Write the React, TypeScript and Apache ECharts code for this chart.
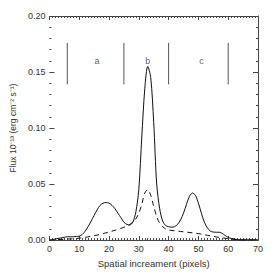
import React, { useEffect, useRef } from "react";
import * as echarts from "echarts";

const solidX = [0,1,2,3,4,5,6,7,8,9,10,11,12,13,14,15,16,17,18,19,20,21,22,23,24,25,26,27,28,29,30,31,32,33,34,35,36,37,38,39,40,41,42,43,44,45,46,47,48,49,50,51,52,53,54,55,56,57,58,59,60,61,62,63,64,66,68,70];
const solidY = [0,0.0005,0.001,0.0015,0.002,0.0025,0.003,0.003,0.003,0.0032,0.0035,0.005,0.008,0.012,0.017,0.022,0.027,0.031,0.033,0.0335,0.033,0.031,0.028,0.024,0.02,0.016,0.014,0.0135,0.016,0.025,0.045,0.092,0.135,0.155,0.145,0.105,0.05,0.028,0.017,0.013,0.012,0.0115,0.012,0.014,0.018,0.024,0.032,0.039,0.042,0.04,0.033,0.024,0.016,0.011,0.008,0.0072,0.007,0.007,0.006,0.004,0.0025,0.0015,0.001,0.0005,0.0003,0.0003,0.0003,0.0003];

const dashX = [0,2,4,6,8,10,12,14,16,18,20,22,24,26,27,28,29,30,31,32,33,34,35,36,37,38,39,40,42,44,46,48,50,52,54,56,58,60,62,64,66,70];
const dashY = [0,0.0003,0.0006,0.0009,0.0012,0.0017,0.0025,0.0034,0.0045,0.0058,0.0072,0.0088,0.0105,0.0125,0.014,0.016,0.019,0.024,0.032,0.042,0.045,0.04,0.03,0.021,0.015,0.012,0.01,0.009,0.0083,0.0077,0.0071,0.0065,0.0058,0.0048,0.0038,0.0028,0.002,0.0013,0.0006,0.0002,0,0];

const regionBounds = [6, 25, 40, 60];
const regionYRange = [0.139, 0.176];
const regionLabels = ["a", "b", "c"];
const regionLabelX = [16, 33, 51];
const regionLabelY = 0.16;

const xTicks = [0, 10, 20, 30, 40, 50, 60, 70];
const yTicks = [0, 0.05, 0.1, 0.15, 0.2];

const FONT = "Liberation Sans";
const TXT = "#333";
const AX = "#444";

export default function App() {
  const ref = useRef<HTMLDivElement>(null);
  useEffect(() => {
    if (!ref.current) return;
    const chart = echarts.init(ref.current, null, { renderer: "svg" });
    const boundData: any[] = [];
    regionBounds.forEach((b) => {
      boundData.push([b, regionYRange[0]], [b, regionYRange[1]], [null, null]);
    });
    chart.setOption({
      animation: false,
      grid: { left: 48, right: 15, top: 16, bottom: 32 },
      xAxis: [
        {
          type: "value",
          min: xTicks[0],
          max: xTicks[xTicks.length - 1],
          interval: 10,
          position: "bottom",
          name: "Spatial increament (pixels)",
          nameLocation: "middle",
          nameGap: 15,
          nameTextStyle: { fontFamily: FONT, fontSize: 9.5, color: TXT },
          axisLine: { show: true, onZero: false, lineStyle: { color: AX, width: 1 } },
          axisTick: { show: true, inside: true, length: 4, lineStyle: { color: AX } },
          minorTick: { show: true, splitNumber: 10, length: 2, lineStyle: { color: AX } },
          axisLabel: { fontFamily: FONT, fontSize: 9, color: TXT, margin: 4 },
          splitLine: { show: false },
        },
        {
          type: "value",
          min: 0,
          max: 70,
          interval: 10,
          position: "top",
          axisLine: { show: true, onZero: false, lineStyle: { color: AX, width: 1 } },
          axisTick: { show: true, inside: true, length: 4, lineStyle: { color: AX } },
          minorTick: { show: true, splitNumber: 10, length: 2, lineStyle: { color: AX } },
          axisLabel: { show: false },
          splitLine: { show: false },
        },
      ],
      yAxis: [
        {
          type: "value",
          min: yTicks[0],
          max: yTicks[yTicks.length - 1],
          interval: 0.05,
          position: "left",
          name: "Flux 10\u207B\u00B9\u00B3 (erg cm\u207B\u00B2 s\u207B\u00B9)",
          nameLocation: "middle",
          nameGap: 31,
          nameTextStyle: { fontFamily: FONT, fontSize: 8.5, color: TXT },
          axisLine: { show: false },
          axisTick: { show: true, inside: true, length: 5, lineStyle: { color: AX } },
          minorTick: { show: true, splitNumber: 5, length: 2, lineStyle: { color: AX } },
          axisLabel: {
            fontFamily: FONT,
            fontSize: 9,
            color: TXT,
            margin: 4,
            formatter: (v: number) => v.toFixed(2),
          },
          splitLine: { show: false },
        },
        {
          type: "value",
          min: 0,
          max: 0.2,
          interval: 0.05,
          position: "right",
          axisLine: { show: true, onZero: false, lineStyle: { color: AX, width: 1 } },
          axisTick: { show: true, inside: true, length: 5, lineStyle: { color: AX } },
          minorTick: { show: true, splitNumber: 5, length: 2, lineStyle: { color: AX } },
          axisLabel: { show: false },
          splitLine: { show: false },
        },
      ],
      series: [
        {
          type: "line",
          data: boundData,
          connectNulls: false,
          showSymbol: false,
          symbol: "none",
          lineStyle: { color: "#555", width: 1 },
          silent: true,
        },
        {
          type: "scatter",
          data: regionLabels.map((l, i) => [regionLabelX[i], regionLabelY, l]),
          symbolSize: 0,
          label: {
            show: true,
            position: "inside",
            formatter: (p: any) => p.data[2],
            fontFamily: FONT,
            fontSize: 9,
            color: TXT,
          },
          silent: true,
        },
        {
          type: "line",
          data: dashX.map((x, i) => [x, dashY[i]]),
          smooth: 0.3,
          showSymbol: false,
          symbol: "none",
          lineStyle: { color: "#111", width: 1, type: [5, 4] },
        },
        {
          type: "line",
          data: solidX.map((x, i) => [x, solidY[i]]),
          smooth: 0.3,
          showSymbol: false,
          symbol: "none",
          lineStyle: { color: "#111", width: 1 },
        },
      ],
    });
    return () => chart.dispose();
  }, []);
  return <div ref={ref} style={{ width: 273, height: 273, position: "absolute", left: 0, top: 0 }} />;
}
